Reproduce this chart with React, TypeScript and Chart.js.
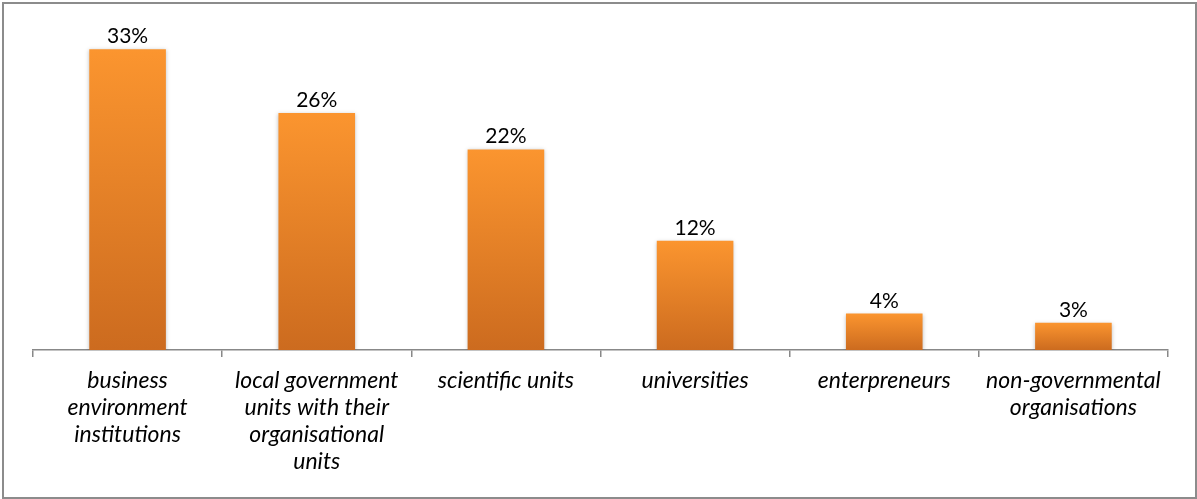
import React, { useEffect, useRef } from "react";
import { Chart, registerables } from "chart.js";

Chart.register(...registerables);

const categories: string[][] = [
  ["business", "environment", "institutions"],
  ["local government", "units with their", "organisational", "units"],
  ["scientific units"],
  ["universities"],
  ["enterpreneurs"],
  ["non-governmental", "organisations"],
];
const values: number[] = [33, 26, 22, 12, 4, 3];
const valueLabels: string[] = ["33%", "26%", "22%", "12%", "4%", "3%"];

const FONT = "Lato, 'DejaVu Sans', sans-serif";

export default function App() {
  const ref = useRef<HTMLCanvasElement | null>(null);

  useEffect(() => {
    document.body.style.margin = "0";
    const canvas = ref.current;
    if (!canvas) return;

    const labelPlugin = {
      id: "valueLabels",
      afterDatasetsDraw(chart: any) {
        const ctx = chart.ctx;
        const meta = chart.getDatasetMeta(0);
        ctx.save();
        ctx.font = `21px ${FONT}`;
        ctx.fillStyle = "#000";
        ctx.textAlign = "center";
        ctx.textBaseline = "alphabetic";
        meta.data.forEach((bar: any, i: number) => {
          ctx.fillText(valueLabels[i], bar.x, bar.y - 6);
        });
        ctx.restore();
      },
    };

    const shadowPlugin = {
      id: "barShadow",
      beforeDatasetsDraw(chart: any) {
        const ctx = chart.ctx;
        ctx.save();
        ctx.shadowColor = "rgba(0,0,0,0.25)";
        ctx.shadowBlur = 4;
        ctx.shadowOffsetX = 0;
        ctx.shadowOffsetY = 1;
      },
      afterDatasetsDraw(chart: any) {
        chart.ctx.restore();
      },
    };

    const chart = new Chart(canvas, {
      type: "bar",
      data: {
        labels: categories,
        datasets: [
          {
            data: values,
            backgroundColor: (c: any) => {
              const chart = c.chart;
              const y = chart.scales?.y;
              if (!y || c.parsed == null) return "#EE8528";
              const top = y.getPixelForValue(c.parsed.y);
              const bottom = y.getPixelForValue(0);
              if (!isFinite(top) || !isFinite(bottom) || top === bottom) return "#EE8528";
              const g = chart.ctx.createLinearGradient(0, top, 0, bottom);
              g.addColorStop(0, "#FB952F");
              g.addColorStop(1, "#CC6B1F");
              return g;
            },
            borderWidth: 0,
            barPercentage: 0.81,
            categoryPercentage: 0.5,
          },
        ],
      },
      options: {
        animation: false,
        responsive: false,
        maintainAspectRatio: false,
        layout: { padding: { left: 33, right: 29, top: 31, bottom: 0 } },
        plugins: {
          legend: { display: false },
          tooltip: { enabled: false },
        },
        scales: {
          y: {
            display: false,
            min: 0,
            max: 35,
          },
          x: {
            afterFit: (s: any) => {
              s.height = 149;
            },
            border: { display: true, color: "#888888", width: 1.5 },
            grid: {
              offset: true,
              drawOnChartArea: false,
              drawTicks: true,
              tickLength: 7,
              color: "#888888",
              lineWidth: 1.5,
            },
            ticks: {
              color: "#000",
              padding: 10,
              maxRotation: 0,
              autoSkip: false,
              font: { family: FONT, size: 23, style: "italic", lineHeight: "27px" } as any,
            },
          },
        },
      },
      plugins: [shadowPlugin, labelPlugin],
    });

    return () => chart.destroy();
  }, []);

  return (
    <div style={{ position: "relative", width: 1197, height: 499, background: "#fff" }}>
      <div
        style={{
          position: "absolute",
          left: 2,
          top: 2,
          width: 1191,
          height: 493,
          border: "2px solid #8c8c8c",
          boxSizing: "content-box",
        }}
      />
      <canvas
        ref={ref}
        width={1197}
        height={499}
        style={{ position: "absolute", left: 0, top: 0, width: 1197, height: 499 }}
      />
    </div>
  );
}
